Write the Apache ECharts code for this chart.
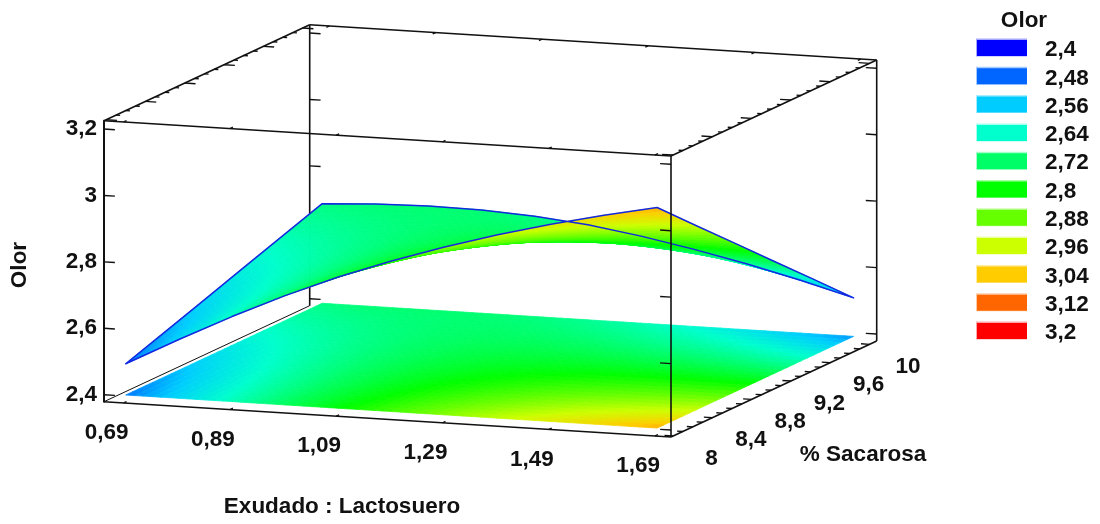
<!DOCTYPE html>
<html><head><meta charset="utf-8">
<style>html,body{margin:0;padding:0;background:#fff}#c{width:1100px;height:524px}</style>
<script src="https://cdn.jsdelivr.net/npm/echarts@6/dist/echarts.min.js"></script>
</head><body><div id="c"></div>
<script>
// ---------- values ----------
var exudadoValues = [0.69, 0.79, 0.89, 0.99, 1.09, 1.19, 1.29, 1.39, 1.49, 1.59, 1.69];
var sacarosaValues = [8, 8.4, 8.8, 9.2, 9.6, 10];
var olorAt8   = [2.494, 2.577, 2.656, 2.729, 2.795, 2.853, 2.905, 2.952, 2.994, 3.031, 3.064];
var olorAt8_4 = [2.535, 2.603, 2.667, 2.725, 2.776, 2.820, 2.856, 2.888, 2.915, 2.937, 2.954];
var olorAt8_8 = [2.576, 2.630, 2.679, 2.722, 2.758, 2.786, 2.808, 2.824, 2.836, 2.842, 2.845];
var olorAt9_2 = [2.618, 2.656, 2.690, 2.718, 2.739, 2.753, 2.759, 2.760, 2.756, 2.748, 2.735];
var olorAt9_6 = [2.659, 2.683, 2.702, 2.715, 2.721, 2.719, 2.711, 2.696, 2.677, 2.653, 2.626];
var olorAt10  = [2.700, 2.709, 2.713, 2.711, 2.702, 2.686, 2.662, 2.632, 2.598, 2.559, 2.516];
var xTickValues = [0.69, 0.89, 1.09, 1.29, 1.49, 1.69];
var yTickValues = [8, 8.4, 8.8, 9.2, 9.6, 10];
var yMinorSteps = [0.1, 0.2, 0.3];
var zTickValues = [2.4, 2.6, 2.8, 3, 3.2];
var legendValues = [2.4, 2.48, 2.56, 2.64, 2.72, 2.8, 2.88, 2.96, 3.04, 3.12, 3.2];
var legendColors = ['#0000ff','#0066ff','#00ccff','#00ffcc','#00ff66','#00ff00','#66ff00','#ccff00','#ffcc00','#ff6600','#ff0000'];
// ---------- box extents and projection ----------
var xMin = 0.653, xMax = 1.72, yMin = 7.979, yMax = 10.073, zMin = 2.379, zMax = 3.225, zFloor = 2.4;
var FONT = '"Liberation Sans", Arial, sans-serif', FS = 22.5, INK = '#111';
var comma = function (v) { return String(v).replace('.', ','); };
var olorRows = [olorAt8, olorAt8_4, olorAt8_8, olorAt9_2, olorAt9_6, olorAt10];

// x and z go through the chart's own axes; the depth axis is an oblique shift on top of them
function project(api, x, y, z) {
  var p = api.coord([x, z]);
  var u = (x - xMin) / (xMax - xMin), v = (y - yMin) / (yMax - yMin);
  return [p[0] + 205.7 * v, p[1] + 35.3 * u - 96 * v];
}
function rgb(h) { return [parseInt(h.substr(1,2),16), parseInt(h.substr(3,2),16), parseInt(h.substr(5,2),16)]; }
var legendRgb = legendColors.map(rgb);
function colorOf(z) {
  var n = legendValues.length - 1;
  var t = (z - legendValues[0]) / (legendValues[n] - legendValues[0]) * n;
  t = Math.max(0, Math.min(n - 1e-6, t));
  var i = Math.floor(t), f = t - i, a = legendRgb[i], b = legendRgb[i + 1];
  return 'rgb(' + Math.round(a[0] + (b[0]-a[0])*f) + ',' + Math.round(a[1] + (b[1]-a[1])*f) + ',' + Math.round(a[2] + (b[2]-a[2])*f) + ')';
}
// surface cells, far to near
var cells = [];
for (var r = sacarosaValues.length - 2; r >= 0; r--) {
  for (var c = 0; c < exudadoValues.length - 1; c++) {
    cells.push([exudadoValues[c], exudadoValues[c+1], sacarosaValues[r], sacarosaValues[r+1],
      olorRows[r][c], olorRows[r][c+1], olorRows[r+1][c], olorRows[r+1][c+1]]);
  }
}
var SUB = 6;
function cellRenderer(flat) {
  return function (params, api) {
    var x0 = api.value(0), x1 = api.value(1), y0 = api.value(2), y1 = api.value(3);
    var a = api.value(4), b = api.value(5), d = api.value(6), e = api.value(7);
    var children = [];
    function val(s, t) { return (a*(1-s)+b*s)*(1-t) + (d*(1-s)+e*s)*t; }
    function pt(s, t) {
      return project(api, x0+(x1-x0)*s, y0+(y1-y0)*t, flat ? zFloor : val(s, t));
    }
    for (var j = SUB - 1; j >= 0; j--) for (var i = 0; i < SUB; i++) {
      var s0 = i/SUB, s1 = (i+1)/SUB, t0 = j/SUB, t1 = (j+1)/SUB;
      var col = colorOf(val((s0+s1)/2, (t0+t1)/2));
      children.push({ type: 'polygon', shape: { points: [pt(s0,t0), pt(s1,t0), pt(s1,t1), pt(s0,t1)] },
        style: { fill: col, stroke: col, lineWidth: 0.8 }, silent: true });
    }
    return { type: 'group', children: children };
  };
}
// line segments in data space: x1,y1,z1,x2,y2,z2,width
function lineRenderer(params, api) {
  var p = project(api, api.value(0), api.value(1), api.value(2));
  var q = project(api, api.value(3), api.value(4), api.value(5));
  return { type: 'line', shape: { x1: p[0], y1: p[1], x2: q[0], y2: q[1] },
    style: { stroke: INK, lineWidth: api.value(6), lineCap: 'butt' }, silent: true };
}
var LW = 1.6, TW = 1.4;
var xTickLen = 0.0205, xTickBottom = 0.016, xMinorTop = 0.008, xMinorBottom = 0.011, yTickShort = 0.03;
var backLines = [
  [xMin,yMin,zMin, xMax,yMin,zMin, LW], [xMin,yMin,zMax, xMax,yMin,zMax, LW],
  [xMin,yMax,zMax, xMax,yMax,zMax, LW],
  [xMin,yMin,zMin, xMin,yMax,zMin, 1], [xMin,yMin,zMax, xMin,yMax,zMax, LW],
  [xMax,yMin,zMin, xMax,yMax,zMin, LW], [xMax,yMin,zMax, xMax,yMax,zMax, LW],
  [xMin,yMax,zMin, xMin,yMax,zMax, LW], [xMax,yMax,zMin, xMax,yMax,zMax, LW]
];
zTickValues.forEach(function (z) {
  backLines.push([xMin,yMin,z, xMin+xTickLen,yMin,z, TW]);
  backLines.push([xMin,yMax,z, xMin+xTickLen,yMax,z, TW]);
  backLines.push([xMax,yMax,z, xMax-xTickLen,yMax,z, TW]);
});
xTickValues.forEach(function (x) {
  backLines.push([x,yMin,zMin, x,yMin+yTickShort,zMin, TW]);
  backLines.push([x,yMin,zMax, x,yMin+yTickShort,zMax, TW]);
  backLines.push([x,yMax,zMax, x,yMax-yTickShort,zMax, TW]);
});
yTickValues.forEach(function (y) {
  backLines.push([xMin,y,zMax, xMin+xTickLen,y,zMax, TW]);
  backLines.push([xMax,y,zMax, xMax-xTickLen,y,zMax, TW]);
  backLines.push([xMax,y,zMin, xMax-xTickBottom,y,zMin, TW]);
  if (y < 10) {
    yMinorSteps.forEach(function (d) {
      backLines.push([xMin,y+d,zMax, xMin+xMinorTop,y+d,zMax, TW]);
      backLines.push([xMax,y+d,zMax, xMax-xMinorTop,y+d,zMax, TW]);
      backLines.push([xMax,y+d,zMin, xMax-xMinorBottom,y+d,zMin, TW]);
    });
  }
});
var frontLines = [[xMax,yMin,zMin, xMax,yMin,zMax, LW]];
zTickValues.forEach(function (z) { frontLines.push([xMax,yMin,z, xMax-xTickLen,yMin,z, TW]); });

// blue outline of the raised surface
var outline = olorAt8.map(function (z, i) { return [exudadoValues[i], 8, z]; });
var outlineRight = olorRows.map(function (row, j) { return [1.69, sacarosaValues[j], row[10]]; });
var outlineBack = olorAt10.map(function (z, i) { return [exudadoValues[i], 10, z]; }).reverse();
var outlineLeft = olorRows.map(function (row, j) { return [0.69, sacarosaValues[j], row[0]]; }).reverse();
var outlinePath = outline.concat(outlineRight.slice(1), outlineBack.slice(1), outlineLeft.slice(1));

function textSeries(name, rows, fn) {
  return { type: 'custom', name: name, coordinateSystem: 'cartesian2d', silent: true, animation: false,
    data: rows.map(function (v, i) { return [i, v]; }), renderItem: fn, z: 20 };
}
var option = {
  animation: false, backgroundColor: '#fff',
  grid: { left: 104, top: 120.7, width: 567, height: 281 },
  xAxis: { type: 'value', min: xMin, max: xMax, show: false },
  yAxis: { type: 'value', min: zMin, max: zMax, splitLine: { show: false },
    axisLine: { show: true, lineStyle: { color: INK, width: 2 } }, axisTick: { show: false },
    axisLabel: { customValues: zTickValues, formatter: comma, color: INK, margin: 7,
      fontFamily: FONT, fontWeight: 'bold', fontSize: FS } },
  series: [
    { type: 'custom', name: 'box', coordinateSystem: 'cartesian2d', silent: true, data: backLines, renderItem: lineRenderer, z: 1 },
    { type: 'custom', name: 'floor', coordinateSystem: 'cartesian2d', silent: true, progressive: 0, data: cells, renderItem: cellRenderer(true), z: 2 },
    { type: 'custom', name: 'surface', coordinateSystem: 'cartesian2d', silent: true, progressive: 0, data: cells, renderItem: cellRenderer(false), z: 3 },
    { type: 'custom', name: 'outline', coordinateSystem: 'cartesian2d', silent: true, data: [[0]], z: 4,
      renderItem: function (p, api) {
        return { type: 'polygon', shape: { points: outlinePath.map(function (q) { return project(api, q[0], q[1], q[2]); }) },
          style: { fill: 'none', stroke: '#1428e0', lineWidth: 1.5, lineJoin: 'round' }, silent: true };
      } },
    { type: 'custom', name: 'front', coordinateSystem: 'cartesian2d', silent: true, data: frontLines, renderItem: lineRenderer, z: 5 },
    textSeries('xLabels', xTickValues, function (p, api) {
      var i = api.value(0), q = project(api, xTickValues[i], yMin, zMin);
      return { type: 'text', silent: true, x: q[0] - 17, y: q[1] + 30,
        style: { text: comma(xTickValues[i]), font: 'bold ' + FS + 'px ' + FONT, fill: INK, align: 'center', verticalAlign: 'middle' } };
    }),
    textSeries('yLabels', yTickValues, function (p, api) {
      var i = api.value(0), q = project(api, xMax, yTickValues[i], zMin);
      return { type: 'text', silent: true, x: q[0] + 38.5, y: q[1] + 22.5,
        style: { text: comma(yTickValues[i]), font: 'bold ' + FS + 'px ' + FONT, fill: INK, align: 'center', verticalAlign: 'middle' } };
    })
  ],
  graphic: (function () {
    var g = [
      { type: 'text', x: 342, y: 507, silent: true, style: { text: 'Exudado : Lactosuero', font: 'bold ' + FS + 'px ' + FONT, fill: INK, align: 'center', verticalAlign: 'middle' } },
      { type: 'text', x: 863, y: 455, silent: true, style: { text: '% Sacarosa', font: 'bold ' + FS + 'px ' + FONT, fill: INK, align: 'center', verticalAlign: 'middle' } },
      { type: 'text', x: 20, y: 265, rotation: Math.PI / 2, silent: true, style: { text: 'Olor', font: 'bold ' + FS + 'px ' + FONT, fill: INK, align: 'center', verticalAlign: 'middle' } },
      { type: 'text', x: 1024, y: 21, silent: true, style: { text: 'Olor', font: 'bold ' + FS + 'px ' + FONT, fill: INK, align: 'center', verticalAlign: 'middle' } }
    ];
    legendValues.forEach(function (v, i) {
      var top = 40 + i * 28.3;
      g.push({ type: 'rect', silent: true, shape: { x: 976, y: top - 1.5, width: 51, height: 18 }, style: { fill: legendColors[i], opacity: 0.35 } });
      g.push({ type: 'rect', silent: true, shape: { x: 977, y: top, width: 50, height: 16 }, style: { fill: legendColors[i] } });
      g.push({ type: 'text', silent: true, x: 1045, y: top + 10, style: { text: comma(v), font: 'bold ' + FS + 'px ' + FONT, fill: INK, align: 'left', verticalAlign: 'middle' } });
    });
    return g;
  })()
};
var chart = echarts.init(document.getElementById('c'), null, { renderer: 'canvas' });
chart.setOption(option);
</script></body></html>
